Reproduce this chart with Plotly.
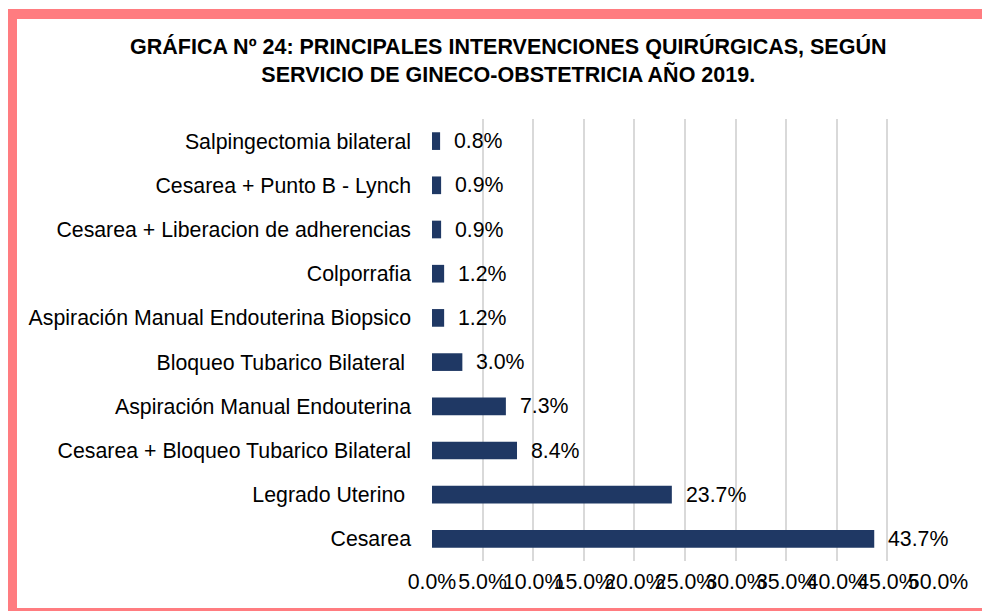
import plotly.graph_objects as go

categories = [
    "Cesarea",
    "Legrado Uterino ",
    "Cesarea + Bloqueo Tubarico Bilateral",
    "Aspiración Manual Endouterina",
    "Bloqueo Tubarico Bilateral ",
    "Aspiración Manual Endouterina Biopsico",
    "Colporrafia",
    "Cesarea + Liberacion de adherencias",
    "Cesarea + Punto B - Lynch",
    "Salpingectomia bilateral",
]
values = [43.7, 23.7, 8.4, 7.3, 3.0, 1.2, 1.2, 0.9, 0.9, 0.8]
tick_vals = [0, 5, 10, 15, 20, 25, 30, 35, 40, 45, 50]
tick_text = ["0.0%", "5.0%", "10.0%", "15.0%", "20.0%", "25.0%", "30.0%", "35.0%", "40.0%", "45.0%", "50.0%"]
title_lines = ["GRÁFICA Nº 24: PRINCIPALES INTERVENCIONES QUIRÚRGICAS, SEGÚN",
               "SERVICIO DE GINECO-OBSTETRICIA AÑO 2019."]

OFF = 8  # page body margin
W, H = 990 - OFF, 611 - OFF
L, R, T, B = 432 - OFF, 52, 119 - OFF, 50
pw, ph = W - L - R, H - T - B
FONT = "Liberation Sans, Arial, sans-serif"
FS = 21.3

def px(p):
    return (p - OFF - L) / pw

def py(p):
    return (H - B - (p - OFF)) / ph

fig = go.Figure(go.Bar(
    x=values, y=categories, orientation="h",
    marker=dict(color="#1F3864", line=dict(width=0)),
    width=0.4,
))

annotations = []
for c, v in zip(categories, values):
    annotations.append(dict(x=v, y=c, xref="x", yref="y", text=f"{v:.1f}%",
                            showarrow=False, xanchor="left", xshift=12,
                            font=dict(size=FS, color="#000000", family=FONT)))
annotations.append(dict(x=px(508), y=py(60), xref="paper", yref="paper",
                        text="<b>" + title_lines[0] + "</b><br><b>" + title_lines[1] + "</b>",
                        showarrow=False, xanchor="center", yanchor="middle", align="center",
                        font=dict(size=21.5, color="#000000", family=FONT)))

border = "#FF7C80"
shapes = [
    dict(type="rect", xref="paper", yref="paper", x0=px(6), x1=px(990), y0=py(19), y1=py(9),
         fillcolor=border, line=dict(width=0), layer="above"),
    dict(type="rect", xref="paper", yref="paper", x0=px(6), x1=px(17), y0=py(611), y1=py(9),
         fillcolor=border, line=dict(width=0), layer="above"),
    dict(type="rect", xref="paper", yref="paper", x0=px(6), x1=px(990), y0=py(611), y1=py(608),
         fillcolor=border, line=dict(width=0), layer="above"),
]

fig.update_layout(
    width=W, height=H,
    margin=dict(l=L, r=R, t=T, b=B),
    paper_bgcolor="white", plot_bgcolor="white",
    showlegend=False,
    font=dict(family=FONT, size=FS, color="#000000"),
    annotations=annotations,
    shapes=shapes,
)
fig.update_xaxes(range=[0, 50], tickvals=tick_vals, ticktext=tick_text, tickangle=0,
                 showgrid=True, gridcolor="#D9D9D9", gridwidth=1.5, automargin=False,
                 zeroline=False, showline=False, ticks="", ticklabelstandoff=6,
                 tickfont=dict(size=FS, color="#000000"))
fig.update_yaxes(range=[-0.5, 9.5], showgrid=False, zeroline=False, showline=False,
                 ticks="", ticklabelstandoff=20, automargin=False,
                 tickfont=dict(size=FS, color="#000000"))

fig.write_html("out.html")
